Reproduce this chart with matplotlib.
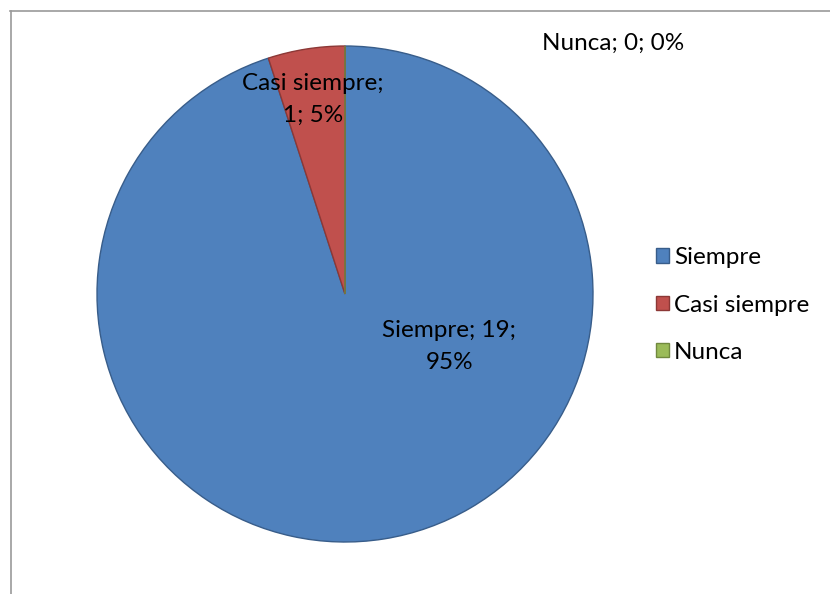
import matplotlib.pyplot as plt
from matplotlib.lines import Line2D

categories = ['Siempre', 'Casi siempre', 'Nunca']
counts = [19, 1, 0]
percents = ['95%', '5%', '0%']

colors = ['#4F81BD', '#C0504D', '#9BBB59']
edges = ['#385D8A', '#8C3836', '#71893F']

plt.rcParams['font.family'] = ['Lato', 'DejaVu Sans']

W, H = 830, 594
fig = plt.figure(figsize=(W / 100, H / 100), dpi=100)

# chart frame (only left and top edges visible in the crop)
fig.add_artist(Line2D([10.5 / W, 10.5 / W], [0, (H - 11) / H], color='#9a9a9a', lw=1.2, transform=fig.transFigure))
fig.add_artist(Line2D([10 / W, 1], [(H - 11) / H, (H - 11) / H], color='#9a9a9a', lw=1.2, transform=fig.transFigure))

cx, cy, r = 345, 294, 248
ax = fig.add_axes([(cx - r) / W, (H - cy - r) / H, 2 * r / W, 2 * r / H])
wedges, _ = ax.pie(counts, colors=colors, startangle=90, counterclock=False,
                   wedgeprops=dict(linewidth=1.0), radius=1)
for w, ec in zip(wedges, edges):
    w.set_edgecolor(ec)
ax.set_xlim(-1, 1)
ax.set_ylim(-1, 1)
ax.set_aspect('auto')

FS = 17.5
label_pos = [(0.42, -0.21), (-0.13, 0.785), (1.08, 1.01)]
label_txt = [
    f'{categories[0]}; {counts[0]};\n{percents[0]}',
    f'{categories[1]};\n{counts[1]}; {percents[1]}',
    f'{categories[2]}; {counts[2]}; {percents[2]}',
]
for (x, y), t in zip(label_pos, label_txt):
    ax.text(x, y, t, ha='center', va='center', fontsize=FS, linespacing=1.65, color='black')

leg = fig.legend(wedges, categories, loc='center left', bbox_to_anchor=(656 / W, (H - 305) / H),
                 frameon=False, fontsize=FS, labelspacing=1.08, handlelength=0.55, handleheight=0.55,
                 handletextpad=0.2, borderaxespad=0, borderpad=0)

fig.savefig('out.png', dpi=100)
